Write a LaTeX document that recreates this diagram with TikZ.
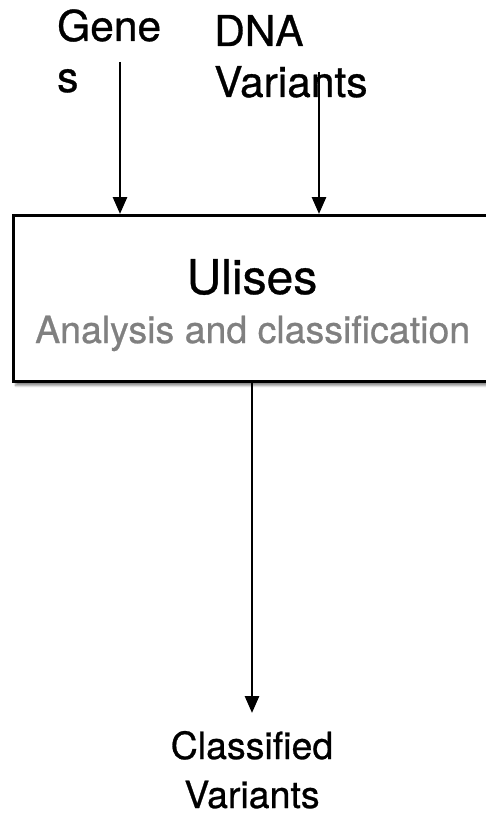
\documentclass[tikz,border=0pt]{standalone}
\usepackage{fontspec}
\setmainfont{TeX Gyre Heros}[FakeBold=0.7]
\usetikzlibrary{arrows.meta,shadows.blur}
\definecolor{subgray}{HTML}{808080}
\tikzset{
  lbl/.style={inner sep=0pt, align=left, font=\fontsize{42.5}{51}\selectfont},
  flow/.style={line width=2.8pt, -{Triangle[width=14pt,length=17pt]}},
  stage/.style={draw, line width=3.2pt, fill=white, inner sep=0pt,
    blur shadow={shadow xshift=2pt, shadow yshift=-4pt, shadow blur steps=6, shadow opacity=45}}
}
\begin{document}
\begin{tikzpicture}[x=1pt,y=-1pt]
  \useasboundingbox (0,0) rectangle (485,813);
  % inputs (base anchor sits on the last line)
  \node[lbl, anchor=base west] (genes) at (57,92) {Gene\\s};
  \node[lbl, anchor=base west] (dna) at (214,97) {DNA\\Variants};
  % processing stage
  \node[stage, anchor=north west, minimum width=500pt, minimum height=166pt] (ulises) at (12,214) {};
  \node[inner sep=0pt, anchor=base, font=\fontsize{48}{52}\selectfont] (title) at (252,294) {Ulises};
  \node[inner sep=0pt, anchor=base west, font=\fontsize{37.5}{40}\selectfont, text=subgray] (sub) at (35,343) {Analysis and classification};
  % output
  \node[inner sep=0pt, align=center, anchor=base, font=\fontsize{37.5}{49}\selectfont] (out) at (252,808) {Classified\\Variants};
  % connectors
  \coordinate (gin) at (120,62);
  \coordinate (din) at (319,72);
  \coordinate (oend) at (252,713);
  \draw[flow] (gin) -- (gin |- ulises.north);
  \draw[flow] (din) -- (din |- ulises.north);
  \draw[flow] (ulises.south -| oend) -- (oend);
\end{tikzpicture}
\end{document}
